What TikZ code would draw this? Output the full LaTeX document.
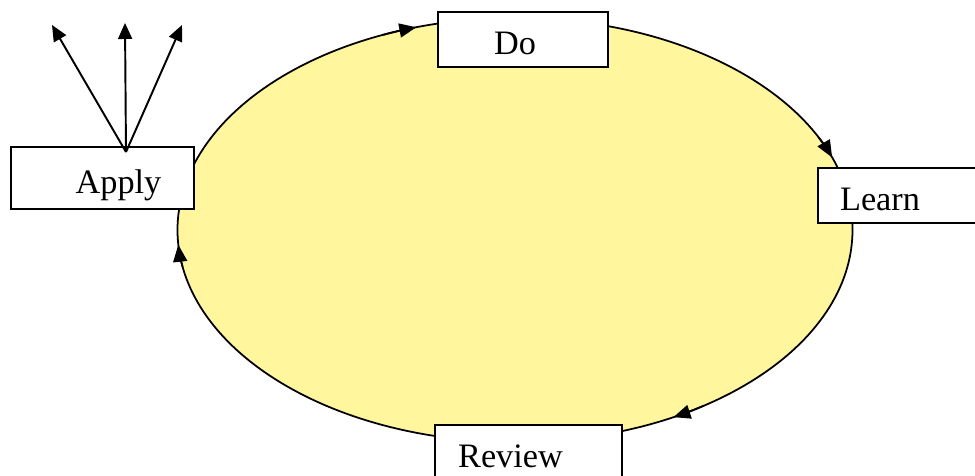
\documentclass[tikz,border=0pt]{standalone}
\usepackage{fontspec}
\setmainfont{Liberation Serif}
\usetikzlibrary{arrows.meta,calc}
\definecolor{cyclefill}{RGB}{255,246,158}

\begin{document}
\begin{tikzpicture}[
  x=0.02cm, y=0.02cm,
  box/.style={draw, fill=white, line width=0.8pt, inner sep=0pt,
              minimum height=1.1cm, text height=18.5pt, text depth=1pt,
              font=\fontsize{19.5}{23}\selectfont},
  flow/.style={-{Triangle[length=3.2mm, width=2.8mm]}, line width=1.1pt},
  turn/.style={-{Triangle[length=3.4mm, width=2.8mm]}, line width=1pt}
]
  \clip (0,0) rectangle (975,476);
  \coordinate (ctr) at (515,246);
  \draw[fill=cyclefill, line width=1pt] (ctr) ellipse [x radius=337.5, y radius=212];

  % arrows round the cycle
  \foreach \a in {113,26,304,190}
    \draw[turn] ($(ctr)+(\a:337.5 and 212)$)
      arc[start angle=\a, end angle=\a-6, x radius=337.5, y radius=212];

  \node[box, minimum width=3.4cm] (do) at (523,436.5) {Do\hspace*{0.32cm}};
  \node[box, minimum width=3.8cm] (learn) at (913,280.5) {Learn\hspace*{1.32cm}};
  \node[box, minimum width=3.74cm] (review) at (528.5,23.5) {Review\hspace*{0.72cm}};
  \node[box, minimum width=3.66cm, minimum height=1.24cm] (apply) at (102.5,298) {\hspace*{0.64cm}Apply};

  \coordinate (hub) at (126,324);
  \coordinate (up1) at (52,451);
  \coordinate (up2) at (125,453);
  \coordinate (up3) at (182,451);
  \foreach \t in {up1,up2,up3}
    \draw[flow] (hub) -- (\t);
\end{tikzpicture}
\end{document}
